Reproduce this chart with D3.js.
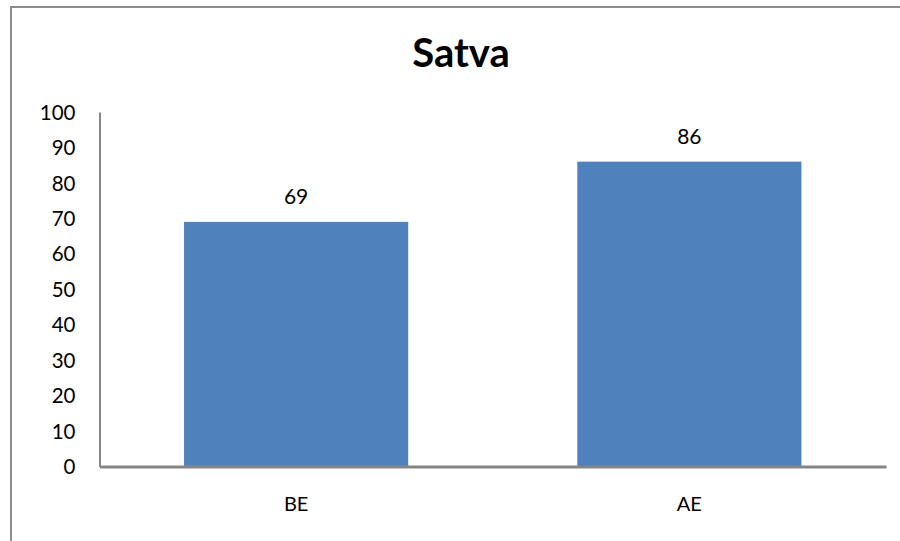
<!DOCTYPE html>
<html>
<head>
<meta charset="utf-8">
<script src="https://cdn.jsdelivr.net/npm/d3@7"></script>
<style>
  html, body { margin: 0; padding: 0; background: #fff; }
  svg { display: block; }
</style>
</head>
<body>
<svg id="chart" width="900" height="541"></svg>
<script>
// Chart data
const title = "Satva";
const categories = ["BE", "AE"];
const values = [69, 86];
const yTicks = [0, 10, 20, 30, 40, 50, 60, 70, 80, 90, 100];

const W = 900, H = 541;
const plot = { left: 99.5, right: 886, top: 112, bottom: 466.5 };
const font = "Lato, 'Open Sans', 'Liberation Sans', sans-serif";
const axisColor = "#868686";
const barColor = "#4F81BD";

const svg = d3.select("#chart");

// Outer chart frame (runs past the right and bottom edges)
svg.append("path")
  .attr("d", `M11,${H + 5} L11,7 L${W + 5},7`)
  .attr("fill", "none")
  .attr("stroke", "#8c8c8c")
  .attr("stroke-width", 2);

// Title
svg.append("text")
  .attr("x", 461).attr("y", 67)
  .attr("text-anchor", "middle")
  .attr("font-family", font)
  .attr("font-weight", "bold")
  .attr("font-size", 40)
  .attr("fill", "#000")
  .text(title);

const x = d3.scaleBand()
  .domain(categories)
  .range([plot.left, plot.right])
  .paddingInner(0.43)
  .paddingOuter(0.215);

const y = d3.scaleLinear()
  .domain([0, 100])
  .range([plot.bottom, plot.top]);

// Bars
svg.append("g").selectAll("rect")
  .data(categories)
  .join("rect")
  .attr("x", d => x(d))
  .attr("y", (d, i) => y(values[i]))
  .attr("width", x.bandwidth())
  .attr("height", (d, i) => y(0) - y(values[i]))
  .attr("fill", barColor);

// Value labels
svg.append("g").selectAll("text")
  .data(categories)
  .join("text")
  .attr("x", d => x(d) + x.bandwidth() / 2)
  .attr("y", (d, i) => y(values[i]) - 18)
  .attr("text-anchor", "middle")
  .attr("font-family", font)
  .attr("font-size", 21)
  .attr("fill", "#000")
  .text((d, i) => values[i]);

// Y axis
const yAxis = d3.axisLeft(y).tickValues(yTicks).tickSize(0).tickPadding(24);
const gy = svg.append("g")
  .attr("transform", `translate(${plot.left},0)`)
  .call(yAxis);
gy.select(".domain").attr("stroke", axisColor).attr("stroke-width", 2);
gy.selectAll("text")
  .attr("font-family", font)
  .attr("font-size", 20.5)
  .attr("fill", "#000")
  .attr("dy", "0.35em");

// X axis
const xAxis = d3.axisBottom(x).tickSize(0).tickPadding(30);
const gx = svg.append("g")
  .attr("transform", `translate(0,${plot.bottom})`)
  .call(xAxis);
gx.select(".domain").attr("stroke", axisColor).attr("stroke-width", 3);
gx.selectAll("text")
  .attr("font-family", font)
  .attr("font-size", 20)
  .attr("fill", "#000");
</script>
</body>
</html>
